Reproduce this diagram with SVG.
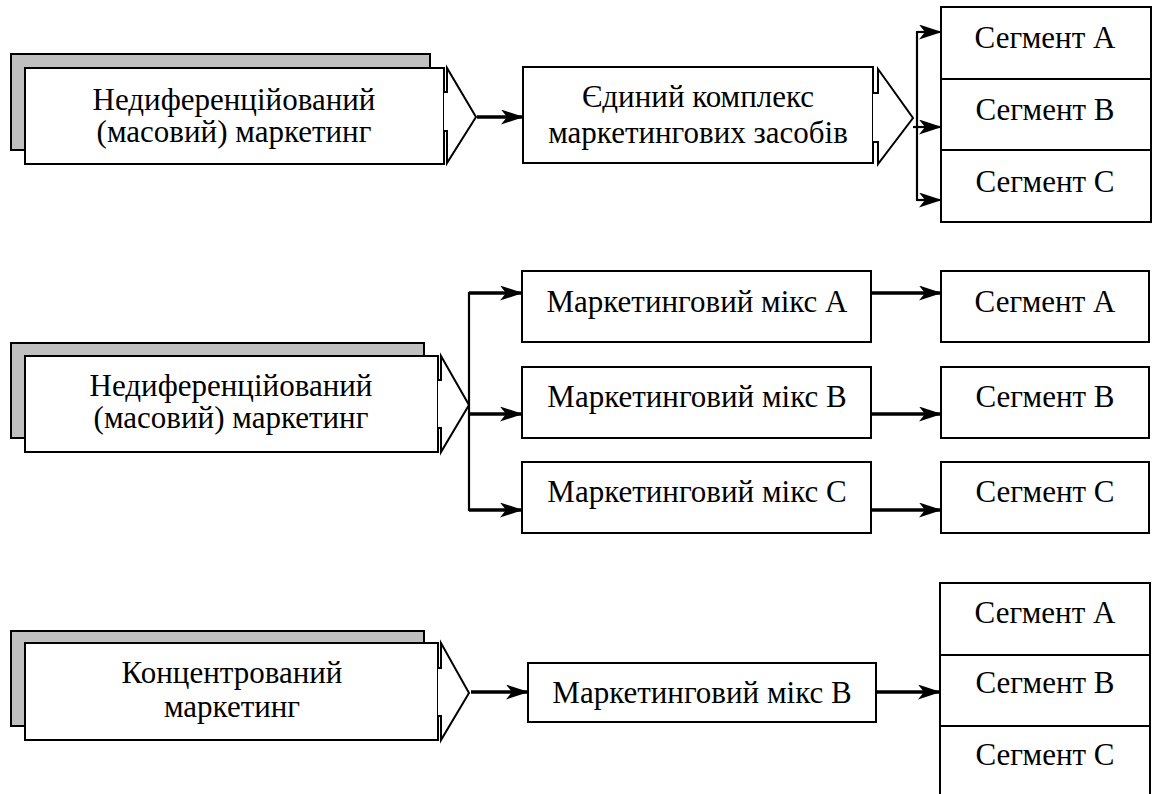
<svg xmlns="http://www.w3.org/2000/svg" width="1157" height="794" viewBox="0 0 1157 794">
  <style>
    .box { fill: #ffffff; stroke: #000000; stroke-width: 2; }
    .shadow { fill: #c0c0c0; stroke: #000000; stroke-width: 2; }
    .chev { fill: #ffffff; stroke: #000000; stroke-width: 2; stroke-linejoin: miter; }
    .lbl { font-family: "Liberation Serif", "Times New Roman", serif; font-size: 31px; fill: #000000; text-anchor: middle; }
    .thick { fill: none; stroke: #000000; stroke-width: 3.5; }
    .thin { fill: none; stroke: #000000; stroke-width: 2.2; }
  </style>
  <defs>
    <marker id="arr" markerUnits="userSpaceOnUse" viewBox="0 0 23 15" refX="22" refY="7.5" markerWidth="23" markerHeight="15" orient="auto">
      <path d="M0,0 L23,7.5 L0,15 L6,7.5 Z" fill="#000000"/>
    </marker>
  </defs>
  <rect width="1157" height="794" fill="#ffffff"/>

  <!-- Row 1: undifferentiated marketing -->
  <g id="mass-1">
    <rect class="shadow" x="11" y="54" width="419" height="96"/>
    <rect class="box" x="25" y="68" width="419" height="96"/>
    <polyline class="chev" points="444,92 447,92 447,68 476,117 447,163 447,131 444,131"/>
    <text class="lbl" x="234" y="110">Недиференційований</text>
    <text class="lbl" x="234" y="142">(масовий) маркетинг</text>
  </g>
  <g id="single-mix">
    <rect class="box" x="523" y="67" width="350" height="96"/>
    <polyline class="chev" points="873,93 878,93 878,69 913,118 878,164 878,142 873,142"/>
    <text class="lbl" x="698" y="107">Єдиний комплекс</text>
    <text class="lbl" x="698" y="143">маркетингових засобів</text>
  </g>
  <g id="segments-1">
    <rect class="box" x="941" y="7" width="210" height="72"/>
    <rect class="box" x="941" y="79" width="210" height="71"/>
    <rect class="box" x="941" y="150" width="210" height="72"/>
    <text class="lbl" x="1045" y="48">Сегмент А</text>
    <text class="lbl" x="1045" y="120">Сегмент В</text>
    <text class="lbl" x="1045" y="192">Сегмент С</text>
  </g>

  <!-- Row 2: differentiated marketing -->
  <g id="mass-2">
    <rect class="shadow" x="11" y="343" width="413" height="95"/>
    <rect class="box" x="25" y="356" width="413" height="96"/>
    <polyline class="chev" points="438,380 441,380 441,356 469,405 441,452 441,428 438,428"/>
    <text class="lbl" x="231" y="396">Недиференційований</text>
    <text class="lbl" x="231" y="428">(масовий) маркетинг</text>
  </g>
  <g id="mix-a">
    <rect class="box" x="522" y="271" width="349" height="71"/>
    <text class="lbl" x="697" y="312">Маркетинговий мікс А</text>
  </g>
  <g id="mix-b">
    <rect class="box" x="522" y="367" width="349" height="71"/>
    <text class="lbl" x="697" y="407">Маркетинговий мікс В</text>
  </g>
  <g id="mix-c">
    <rect class="box" x="522" y="462" width="349" height="71"/>
    <text class="lbl" x="697" y="502">Маркетинговий мікс С</text>
  </g>
  <g id="seg-a-2">
    <rect class="box" x="941" y="271" width="208" height="71"/>
    <text class="lbl" x="1045" y="312">Сегмент А</text>
  </g>
  <g id="seg-b-2">
    <rect class="box" x="941" y="367" width="208" height="71"/>
    <text class="lbl" x="1045" y="407">Сегмент В</text>
  </g>
  <g id="seg-c-2">
    <rect class="box" x="941" y="462" width="208" height="71"/>
    <text class="lbl" x="1045" y="502">Сегмент С</text>
  </g>

  <!-- Row 3: concentrated marketing -->
  <g id="concentrated">
    <rect class="shadow" x="11" y="631" width="413" height="95"/>
    <rect class="box" x="25" y="643" width="413" height="97"/>
    <polyline class="chev" points="438,668 441,668 441,643 469,693 441,740 441,716 438,716"/>
    <text class="lbl" x="232" y="683">Концентрований</text>
    <text class="lbl" x="232" y="717">маркетинг</text>
  </g>
  <g id="mix-b-3">
    <rect class="box" x="528" y="663" width="348" height="59"/>
    <text class="lbl" x="702" y="703">Маркетинговий мікс В</text>
  </g>
  <g id="segments-3">
    <rect class="box" x="940" y="583" width="210" height="72"/>
    <rect class="box" x="940" y="655" width="210" height="71"/>
    <rect class="box" x="940" y="726" width="210" height="80"/>
    <text class="lbl" x="1045" y="623">Сегмент А</text>
    <text class="lbl" x="1045" y="693">Сегмент В</text>
    <text class="lbl" x="1045" y="765">Сегмент С</text>
  </g>

  <!-- Connectors -->
  <g id="connectors">
    <line class="thick" x1="477" y1="117" x2="523" y2="117" marker-end="url(#arr)"/>
    <line class="thin" x1="917" y1="31" x2="917" y2="201"/>
    <line class="thin" x1="917" y1="32" x2="941" y2="32" marker-end="url(#arr)"/>
    <line class="thin" x1="913" y1="127" x2="941" y2="127" marker-end="url(#arr)"/>
    <line class="thin" x1="917" y1="200" x2="941" y2="200" marker-end="url(#arr)"/>

    <line class="thin" x1="469" y1="292" x2="469" y2="511"/>
    <line class="thick" x1="469" y1="293" x2="522" y2="293" marker-end="url(#arr)"/>
    <line class="thick" x1="469" y1="414" x2="522" y2="414" marker-end="url(#arr)"/>
    <line class="thick" x1="469" y1="510" x2="522" y2="510" marker-end="url(#arr)"/>
    <line class="thick" x1="871" y1="293" x2="941" y2="293" marker-end="url(#arr)"/>
    <line class="thick" x1="871" y1="414" x2="941" y2="414" marker-end="url(#arr)"/>
    <line class="thick" x1="871" y1="510" x2="941" y2="510" marker-end="url(#arr)"/>

    <line class="thick" x1="471" y1="692" x2="528" y2="692" marker-end="url(#arr)"/>
    <line class="thick" x1="876" y1="692" x2="940" y2="692" marker-end="url(#arr)"/>
  </g>
</svg>
